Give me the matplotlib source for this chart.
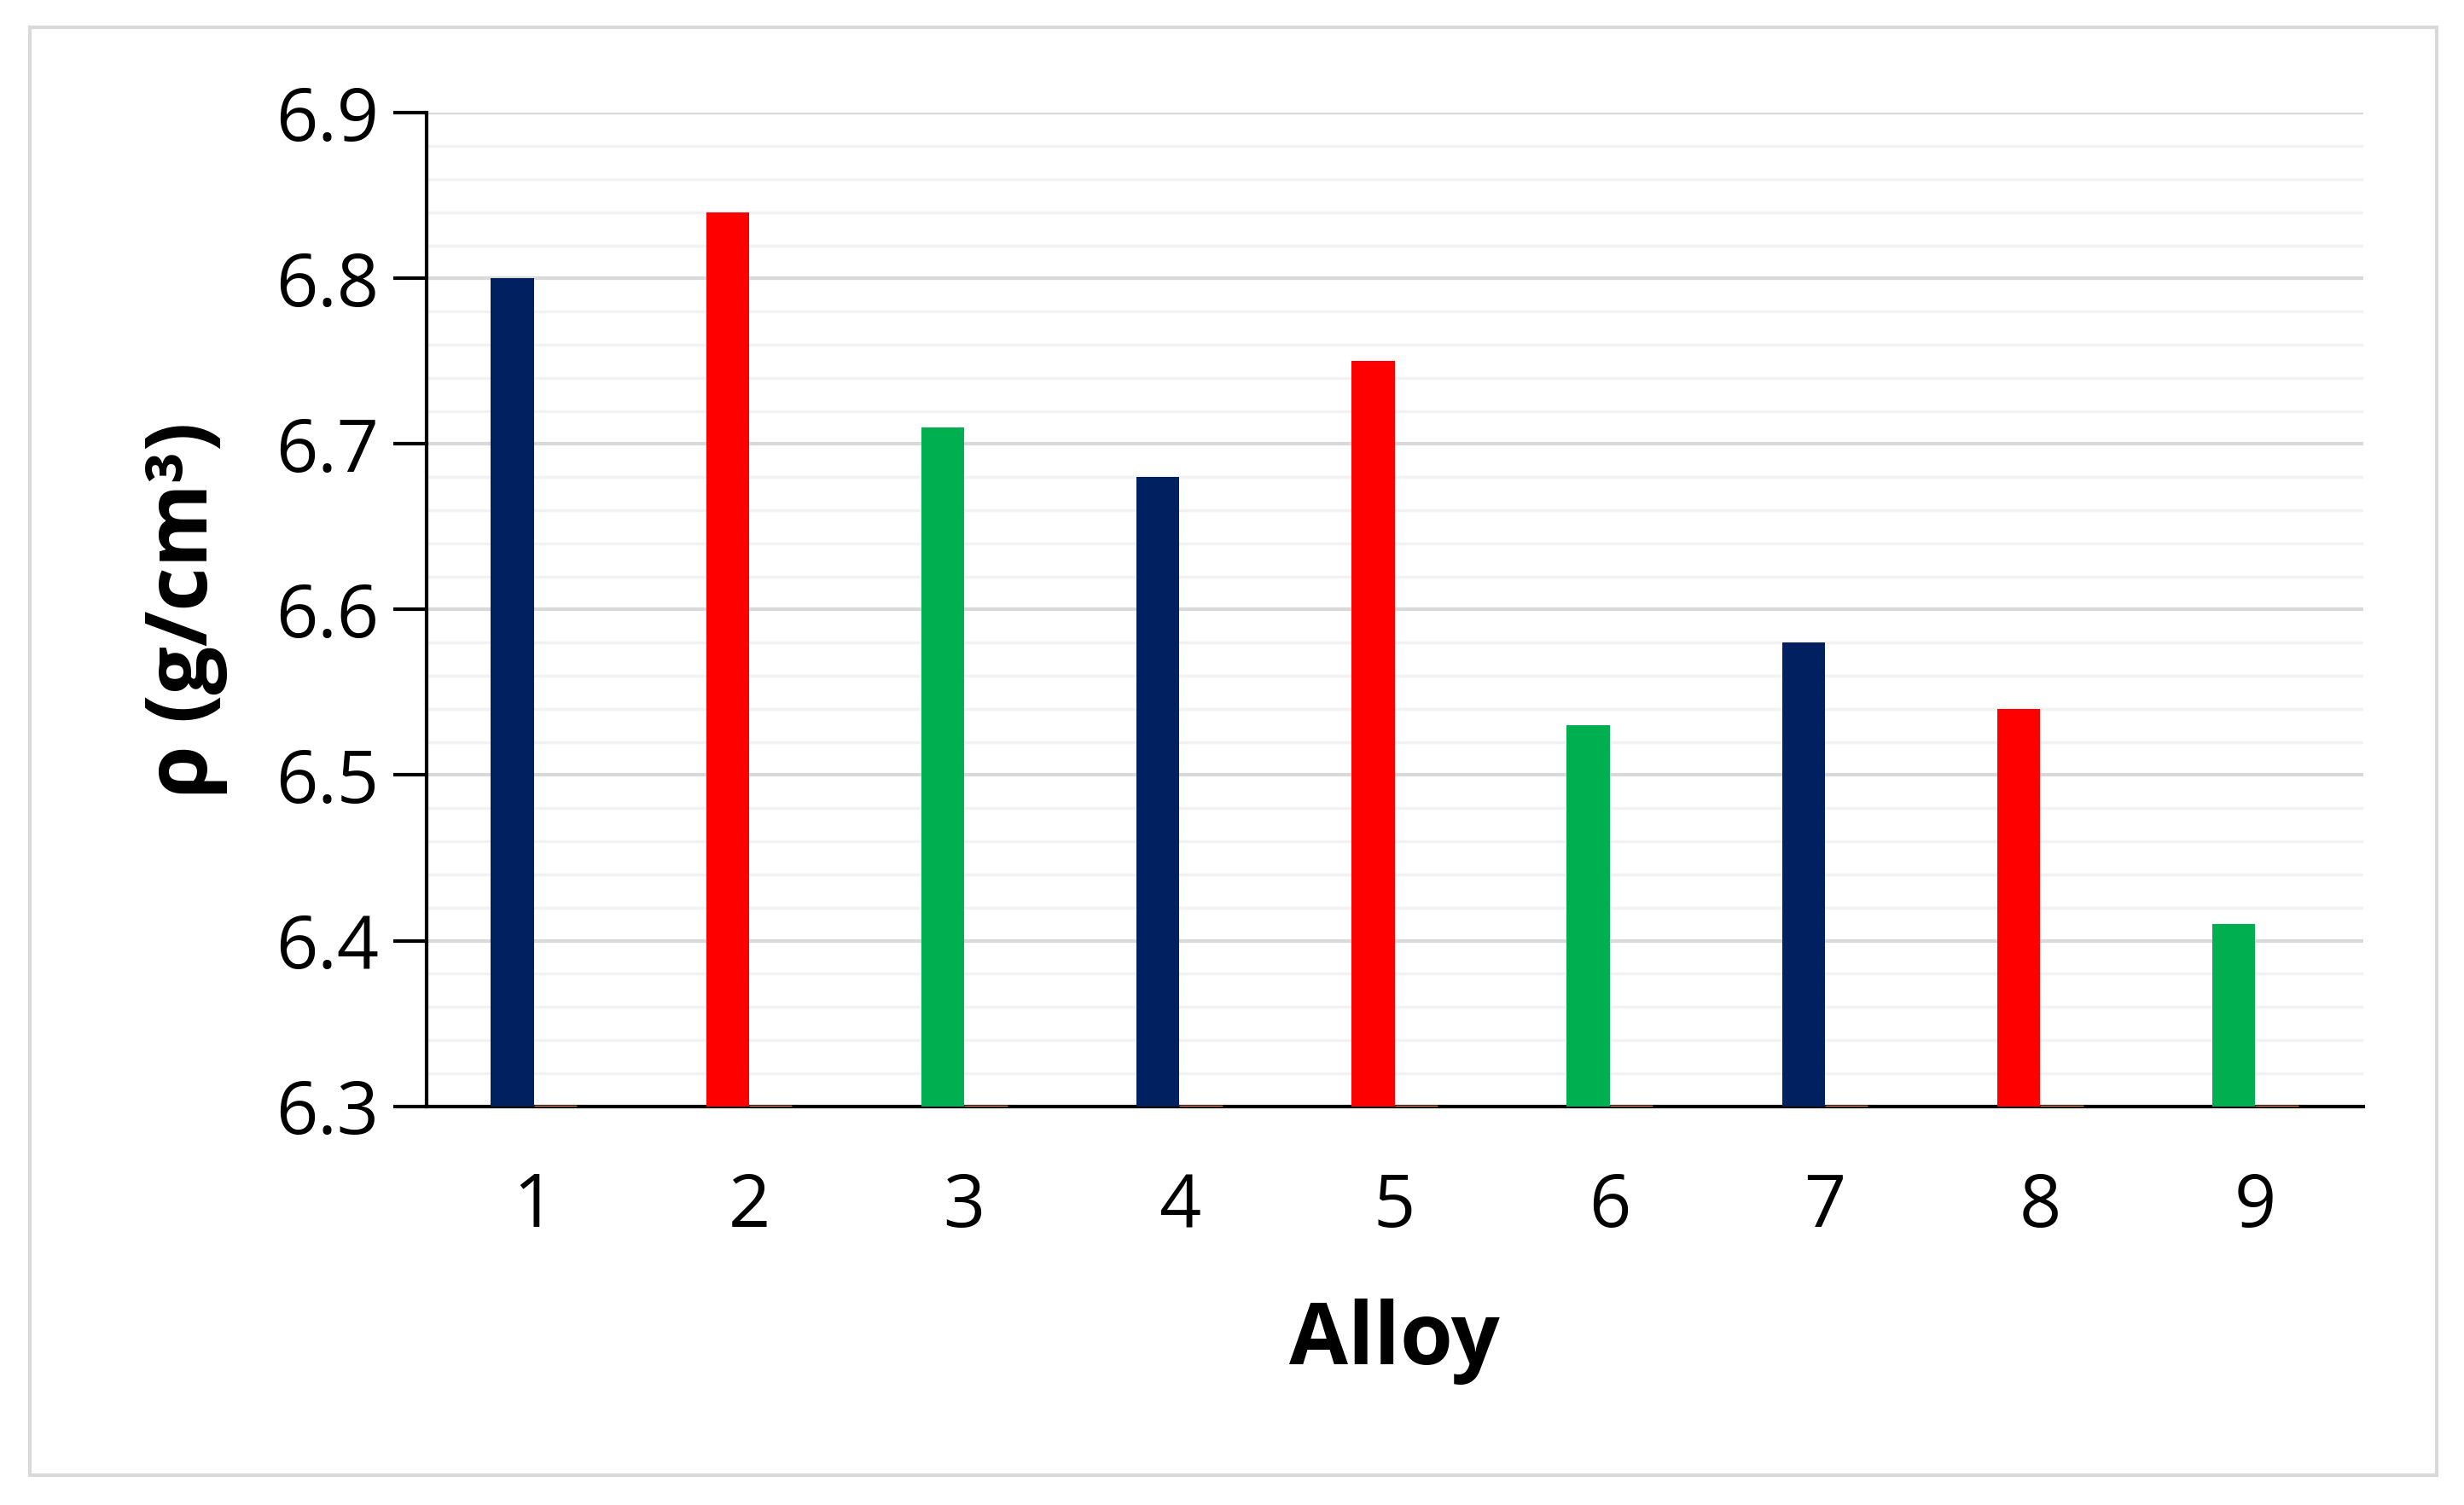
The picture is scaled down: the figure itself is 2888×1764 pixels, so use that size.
import matplotlib
matplotlib.use("Agg")
import matplotlib.pyplot as plt
import numpy as np
from matplotlib.patches import Rectangle

alloys = ["1", "2", "3", "4", "5", "6", "7", "8", "9"]
density = [6.80, 6.84, 6.71, 6.68, 6.75, 6.53, 6.58, 6.54, 6.41]
second_series = [6.30] * 9
bar_colors = ["#002060", "#FF0000", "#00B050"] * 3

plt.rcParams['font.family'] = ['Open Sans', 'DejaVu Sans']
fig = plt.figure(figsize=(28.88, 17.64), dpi=100)
fig.patches.append(Rectangle((0.012, 0.02), 0.977, 0.962, transform=fig.transFigure,
                             fill=False, edgecolor="#D9D9D9", linewidth=3))
ax = fig.add_axes([0.173, 0.265, 0.786, 0.66])

x = np.arange(len(alloys))
w = 0.2
base = 6.3
ax.bar(x - w/2, np.array(density) - base, width=w, bottom=base, color=bar_colors, zorder=3)
ax.bar(x + w/2, np.array(second_series) - base, width=w, bottom=base,
       edgecolor="#ED7D31", linewidth=2.5, color="#ED7D31", zorder=3)

ax.set_ylim(6.3, 6.9)
ax.set_xlim(-0.5, 8.5)
ax.set_yticks(np.arange(6.3, 6.91, 0.1))
ax.set_yticklabels([f"{v:.1f}" for v in np.arange(6.3, 6.91, 0.1)])
ax.set_yticks(np.arange(6.3, 6.9, 0.02), minor=True)
ax.grid(axis='y', which='major', color="#D9D9D9", linewidth=3, zorder=0)
ax.grid(axis='y', which='minor', color="#F2F2F2", linewidth=2.5, zorder=0)
ax.set_xticks(x)
ax.set_xticklabels(alloys)
ax.tick_params(axis='y', which='major', labelsize=62, length=28, width=3, direction='out', pad=12)
ax.tick_params(axis='y', which='minor', length=0)
ax.tick_params(axis='x', labelsize=62, length=0, pad=55)
for s in ['top', 'right']:
    ax.spines[s].set_visible(False)
ax.spines['left'].set_linewidth(3)
ax.spines['bottom'].set_linewidth(3)
ax.set_xlabel("Alloy", fontsize=72, fontweight='bold', labelpad=45)
ax.set_ylabel("ρ (g/cm³)", fontsize=72, fontweight='bold', labelpad=40)

fig.savefig("out.png", dpi=100)
